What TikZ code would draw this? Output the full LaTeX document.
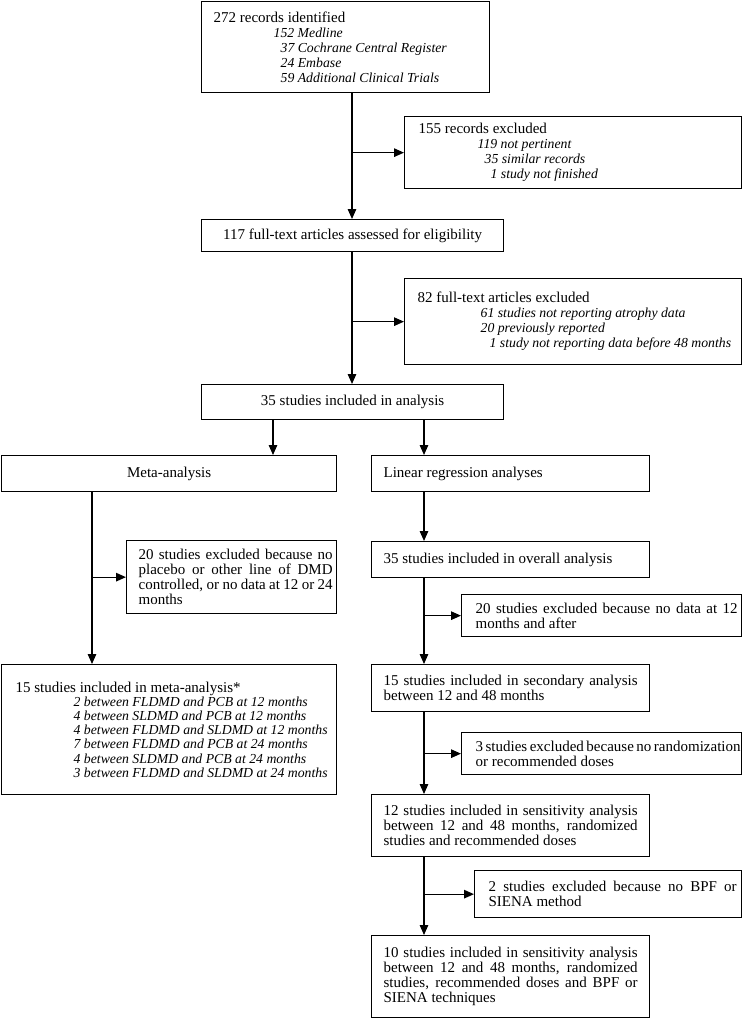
\documentclass[tikz,border=0pt]{standalone}
\usepackage{fontspec}
\setmainfont{Liberation Serif}
\usetikzlibrary{arrows.meta}
\newcommand{\boxtxt}[4]{\hspace*{#1}\parbox{#2}{#4}\hspace*{#3}}
\newcommand{\itl}[1]{\mbox{\fontsize{13.75}{15}\selectfont\itshape #1}}
\begin{document}
\begin{tikzpicture}[x=1pt,y=-1pt,
  box/.style={draw, line width=1.3pt, inner sep=0pt, anchor=north west, font=\fontsize{15}{15}\selectfont},
  arr/.style={line width=1.3pt, -{Triangle[length=10pt,width=8.5pt]}}]
\useasboundingbox (0,0) rectangle (743,1020);
\coordinate (colA) at (352,0);
\coordinate (colM) at (273,0);
\coordinate (colR) at (424,0);
\coordinate (colL) at (92,0);

% top column
\node[box, minimum width=288pt, minimum height=91pt] (top) at (201,1)
  {\boxtxt{12pt}{270pt}{6pt}{\raggedright 272 records identified\\
   \hspace*{60pt}\itl{152 Medline}\\
   \hspace*{67pt}\itl{37 Cochrane Central Register}\\
   \hspace*{67pt}\itl{24 Embase}\\
   \hspace*{67pt}\itl{59 Additional Clinical Trials}}};
\node[box, minimum width=337pt, minimum height=72pt] (excl1) at (404,116)
  {\boxtxt{14pt}{300pt}{23pt}{\raggedright 155 records excluded\\
   \hspace*{59pt}\itl{119 not pertinent}\\
   \hspace*{66pt}\itl{35 similar records}\\
   \hspace*{72pt}\itl{1 study not finished}}};
\node[box, minimum width=302pt, minimum height=32pt] (b117) at (201,219)
  {117 full-text articles assessed for eligibility};
\node[box, minimum width=337pt, minimum height=86pt] (excl2) at (404,278)
  {\boxtxt{13pt}{316pt}{8pt}{\raggedright 82 full-text articles excluded\\
   \hspace*{63pt}\itl{61 studies not reporting atrophy data}\\
   \hspace*{63pt}\itl{20 previously reported}\\
   \hspace*{72pt}\itl{1 study not reporting data before 48 months}}};
\node[box, minimum width=302pt, minimum height=35pt] (b35) at (201,384)
  {35 studies included in analysis};

% left column
\node[box, minimum width=335pt, minimum height=36pt] (meta) at (1,455)
  {Meta-analysis};
\node[box, minimum width=210pt, minimum height=73pt] (placebo) at (126,540)
  {\boxtxt{12pt}{194pt}{4pt}{\makebox[194pt][s]{20 studies excluded because no}\\
   \makebox[194pt][s]{placebo or other line of DMD}\\
   \makebox[194pt][s]{controlled, or no data at 12 or 24}\\
   months}};
\node[box, minimum width=335pt, minimum height=130pt, font=\fontsize{15}{14.2}\selectfont] (meta15) at (1,664)
  {\boxtxt{14pt}{315pt}{6pt}{\raggedright 15 studies included in meta-analysis*\\
   \hspace*{58pt}\itl{2 between FLDMD and PCB at 12 months}\\
   \hspace*{58pt}\itl{4 between SLDMD and PCB at 12 months}\\
   \hspace*{58pt}\itl{4 between FLDMD and SLDMD at 12 months}\\
   \hspace*{58pt}\itl{7 between FLDMD and PCB at 24 months}\\
   \hspace*{58pt}\itl{4 between SLDMD and PCB at 24 months}\\
   \hspace*{58pt}\itl{3 between FLDMD and SLDMD at 24 months}}};

% right column
\node[box, minimum width=278pt, minimum height=36pt] (linear) at (371,455)
  {\boxtxt{12pt}{254pt}{12pt}{Linear regression analyses}};
\node[box, minimum width=278pt, minimum height=36pt] (overall) at (371,541)
  {\boxtxt{12pt}{254pt}{12pt}{35 studies included in overall analysis}};
\node[box, minimum width=280pt, minimum height=42pt] (exclR1) at (461,594)
  {\boxtxt{14pt}{264pt}{2pt}{\makebox[262pt][s]{20 studies excluded because no data at 12}\\
   months and after}};
\node[box, minimum width=278pt, minimum height=47pt] (second) at (371,664)
  {\boxtxt{12pt}{254pt}{12pt}{\makebox[254pt][s]{15 studies included in secondary analysis}\\
   between 12 and 48 months}};
\node[box, minimum width=280pt, minimum height=42pt] (exclR2) at (461,732)
  {\boxtxt{14pt}{264pt}{2pt}{\makebox[262pt][s]{3 studies excluded because no randomization}\\
   or recommended doses}};
\node[box, minimum width=278pt, minimum height=62pt] (twelve) at (371,794)
  {\boxtxt{12pt}{254pt}{12pt}{\makebox[254pt][s]{12 studies included in sensitivity analysis}\\
   \makebox[254pt][s]{between 12 and 48 months, randomized}\\
   studies and recommended doses}};
\node[box, minimum width=267pt, minimum height=47pt] (exclR3) at (474,870)
  {\boxtxt{14pt}{250pt}{3pt}{\makebox[248pt][s]{2 studies excluded because no BPF or}\\
   SIENA method}};
\node[box, minimum width=278pt, minimum height=82pt] (ten) at (371,935)
  {\boxtxt{12pt}{254pt}{12pt}{\makebox[254pt][s]{10 studies included in sensitivity analysis}\\
   \makebox[254pt][s]{between 12 and 48 months, randomized}\\
   \makebox[254pt][s]{studies, recommended doses and BPF or}\\
   SIENA techniques}};

% connectors
\draw[arr] (top.south -| colA) -- (b117.north -| colA);
\draw[arr] (excl1.west -| colA) -- (excl1.west);
\draw[arr] (b117.south -| colA) -- (b35.north -| colA);
\draw[arr] (excl2.west -| colA) -- (excl2.west);
\draw[arr] (b35.south -| colM) -- (meta.north -| colM);
\draw[arr] (b35.south -| colR) -- (linear.north -| colR);
\draw[arr] (meta.south -| colL) -- (meta15.north -| colL);
\draw[arr] (placebo.west -| colL) -- (placebo.west);
\draw[arr] (linear.south -| colR) -- (overall.north -| colR);
\draw[arr] (overall.south -| colR) -- (second.north -| colR);
\draw[arr] (exclR1.west -| colR) -- (exclR1.west);
\draw[arr] (second.south -| colR) -- (twelve.north -| colR);
\draw[arr] (exclR2.west -| colR) -- (exclR2.west);
\draw[arr] (twelve.south -| colR) -- (ten.north -| colR);
\draw[arr] (exclR3.west -| colR) -- (exclR3.west);
\end{tikzpicture}
\end{document}
